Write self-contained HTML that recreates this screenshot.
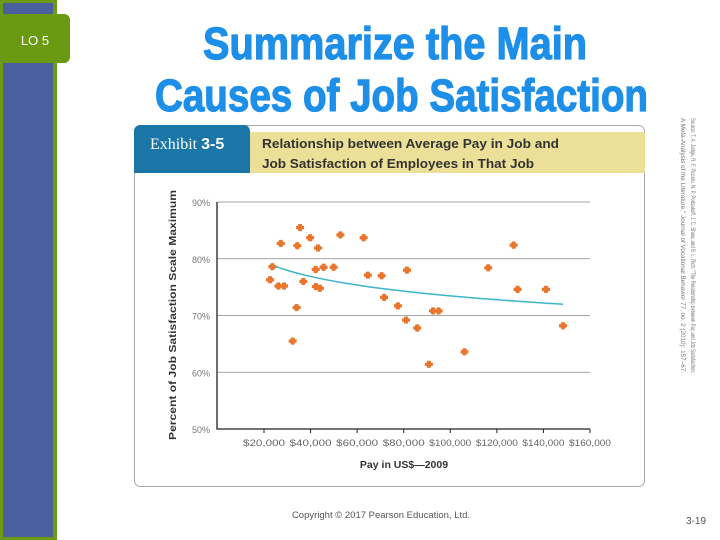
<!DOCTYPE html>
<html><head><meta charset="utf-8"><style>
html,body{margin:0;padding:0;background:#fff;width:720px;height:540px;overflow:hidden}
svg{display:block}
</style></head><body>
<svg id="page" width="720" height="540" viewBox="0 0 720 540" xmlns="http://www.w3.org/2000/svg">
<rect x="0" y="0" width="57" height="540" fill="#6a9a12"/>
<rect x="3" y="3" width="50" height="534" fill="#4a5f9e"/>
<rect x="0" y="14" width="70" height="49" rx="6" fill="#6a9a12"/>
<text x="35" y="45" font-family="Liberation Sans, sans-serif" font-size="13" fill="#fff" text-anchor="middle">LO 5</text>
<g font-family="Liberation Sans, sans-serif" font-weight="bold" fill="#1d8fe8" stroke="#1d8fe8" stroke-width="1.2">
<text x="203" y="59" font-size="45" textLength="384" lengthAdjust="spacingAndGlyphs">Summarize the Main</text>
<text x="155" y="111" font-size="45" textLength="493" lengthAdjust="spacingAndGlyphs">Causes of Job Satisfaction</text>
</g>
<rect x="134.5" y="125.5" width="510" height="361" rx="6" fill="#fff" stroke="#aaa"/>
<rect x="250" y="132" width="395" height="41" fill="#ecdf97"/>
<path d="M134 173 V131 a6 6 0 0 1 6 -6 H244 a6 6 0 0 1 6 6 V173 Z" fill="#1a76a6"/>
<text x="150" y="149" font-family="Liberation Serif, serif" font-size="16" fill="#fff">Exhibit <tspan font-family="Liberation Sans, sans-serif" font-weight="bold">3-5</tspan></text>
<g font-family="Liberation Sans, sans-serif" font-weight="bold" font-size="13" fill="#333">
<text x="262" y="148" textLength="297" lengthAdjust="spacingAndGlyphs">Relationship between Average Pay in Job and</text>
<text x="262" y="168" textLength="272" lengthAdjust="spacingAndGlyphs">Job Satisfaction of Employees in That Job</text>
</g>
<g id="chart"></g>
<text transform="translate(176,440) rotate(-90)" font-family="Liberation Sans, sans-serif" font-weight="bold" font-size="10" fill="#333" textLength="250" lengthAdjust="spacingAndGlyphs">Percent of Job Satisfaction Scale Maximum</text>
<text x="404" y="468" font-family="Liberation Sans, sans-serif" font-weight="bold" font-size="10.5" fill="#333" text-anchor="middle">Pay in US$—2009</text>
<g font-family="Liberation Sans, sans-serif" font-size="6.5" fill="#777">
<text transform="translate(691,118) rotate(90)" textLength="255" lengthAdjust="spacingAndGlyphs">Source: T. A. Judge, R. F. Piccolo, N. P. Podsakoff, J. C. Shaw, and B. L. Rich, "The Relationship between Pay and Job Satisfaction:</text>
<text transform="translate(681,118) rotate(90)" textLength="255" lengthAdjust="spacingAndGlyphs">A Meta-Analysis of the Literature," Journal of Vocational Behavior 77, no. 2 (2010): 157–67.</text>
</g>
<text x="381" y="518" font-family="Liberation Sans, sans-serif" font-size="9.5" fill="#555" text-anchor="middle">Copyright © 2017 Pearson Education, Ltd.</text>
<text x="696" y="524" font-family="Liberation Sans, sans-serif" font-size="10" fill="#555" text-anchor="middle">3-19</text>
</svg>
<script>
const payK = [22.6,23.6,27.2,26.2,28.6,32.3,34.0,34.3,35.5,36.9,39.8,42.2,42.3,43.2,44.0,45.6,49.9,52.8,62.8,64.6,70.5,71.6,77.5,81.0,81.4,85.8,90.8,92.6,95.0,106.1,116.3,127.2,128.9,141.1,148.4];
const satisfaction = [76.3,78.6,82.7,75.2,75.2,65.5,71.4,82.3,85.5,76.0,83.7,78.1,75.1,81.9,74.8,78.5,78.5,84.2,83.7,77.1,77.0,73.2,71.7,69.2,78.0,67.8,61.4,70.8,70.8,63.6,78.4,82.4,74.6,74.6,68.2];
const yTicks = [50,60,70,80,90];
const xTicks = [20,40,60,80,100,120,140,160];
const xTickLabels = ["$20,000","$40,000","$60,000","$80,000","$100,000","$120,000","$140,000","$160,000"];
const trendRange = [24,148.4];
const trendCoef = [90.68,-3.74];

const NS="http://www.w3.org/2000/svg";
const g=document.getElementById('chart');
const Y0=429,Y1=202;
const sxx=v=>264+(v-20)/(140)*(590-264);
const sy=v=>Y0-(v-50)/40*(Y0-Y1);
function mk(t,a){const e=document.createElementNS(NS,t);for(const k in a)e.setAttribute(k,a[k]);g.appendChild(e);return e;}
yTicks.forEach((t,i)=>{
  if(t>50){const l=mk('line',{x1:217,x2:590,y1:sy(t),y2:sy(t),stroke:'#888','stroke-width':0.8});
  
  }
  const tx=mk('text',{x:210,y:sy(t)+4,'text-anchor':'end','font-family':'Liberation Sans, sans-serif','font-size':9,fill:'#777'});
  tx.textContent=t+'%';
  
  
});
const ax=mk('path',{d:`M217 ${Y1} V${Y0} H590`,stroke:'#222','stroke-width':1.3,fill:'none'});


xTicks.forEach((t,i)=>{
  const x=sxx(t);
  const tk=mk('line',{x1:x,x2:x,y1:Y0,y2:Y0+4,stroke:'#222'});
  
  
  const tx=mk('text',{x:x,y:Y0+17,'text-anchor':'middle','font-family':'Liberation Sans, sans-serif','font-size':9.5,fill:'#666',textLength:42,lengthAdjust:'spacingAndGlyphs'});
  tx.textContent=xTickLabels[i];
  
  
});
let d='';
for(let i=0;i<=40;i++){const v=trendRange[0]+(trendRange[1]-trendRange[0])*i/40;const y=trendCoef[0]+trendCoef[1]*Math.log(v);d+=(i?'L':'M')+sxx(v).toFixed(1)+' '+sy(y).toFixed(1);}
const tl=mk('path',{d:d,stroke:'#3cb4cc','stroke-width':1.5,fill:'none'});


payK.forEach((p,i)=>{
  const x=sxx(p),y=sy(satisfaction[i]);
  const m=mk('path',{d:`M${x-1.6} ${y-3.6}h3.2l0.8 2h1.6v3.2h-1.6l-0.8 2h-3.2l-0.8 -2h-1.6v-3.2h1.6z`,fill:'#e8762c'});
  
  
});
</script>
</body></html>
